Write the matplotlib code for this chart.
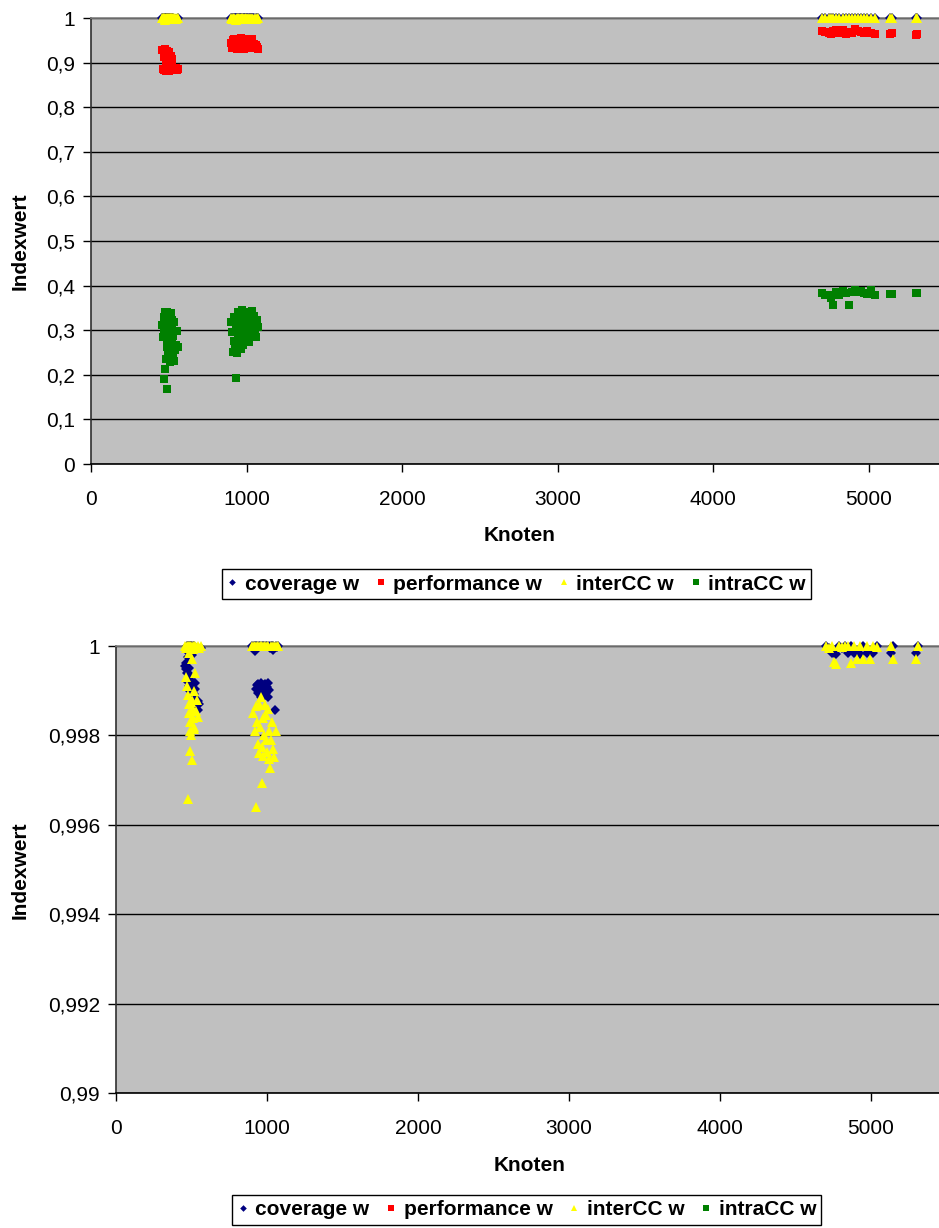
import matplotlib

matplotlib.use("Agg")
import matplotlib.pyplot as plt  # noqa: E402
from matplotlib.lines import Line2D  # noqa: E402

plt.rcParams["font.family"] = ["Liberation Sans", "DejaVu Sans"]

# --- data: three groups of graph instances (Knoten = node count) ---
xa = [458, 463, 467, 470, 472, 475, 477, 479, 481, 483, 485, 486, 488, 490,
      491, 493, 495, 496, 498, 500, 502, 503, 505, 507, 508, 510, 512, 514,
      516, 518, 520, 522, 525, 528, 531, 535, 540, 546, 552, 560]
cov_a = [0.99955, 0.99962, 0.99948, 0.99940, 1.0, 0.99975, 0.9992, 1.0,
         0.99985, 0.9995, 0.9991, 1.0, 0.99935, 0.9990, 0.99925, 1.0, 0.9991,
         1.0, 0.99888, 1.0, 0.99895, 0.99902, 0.9998, 0.99915, 1.0, 0.99885,
         0.99995, 0.99892, 0.99918, 1.0, 0.99878, 0.99918, 0.99905, 0.99880,
         0.99868, 0.99872, 0.99858, 0.99878, 0.9987, 0.99995]
perf_a = [0.928, 0.885, 0.921, 0.912, 0.884, 0.930, 0.918, 0.887, 0.907,
          0.925, 0.882, 0.915, 0.910, 0.889, 0.927, 0.904, 0.886, 0.919,
          0.913, 0.881, 0.908, 0.923, 0.888, 0.916, 0.906, 0.884, 0.911,
          0.914, 0.887, 0.902, 0.883, 0.909, 0.886, 0.889, 0.884, 0.888,
          0.885, 0.887, 0.883, 0.886]
inter_a = [1.0, 0.99995, 0.9993, 0.9991, 1.0, 0.9989, 0.99658, 1.0, 0.9987,
           0.99985, 0.9985, 1.0, 0.9983, 0.99765, 0.9981, 1.0, 0.99875,
           0.99995, 0.9980, 1.0, 0.99745, 0.9988, 0.9997, 0.9984, 1.0, 0.9986,
           0.99993, 0.9982, 0.9990, 1.0, 0.99815, 0.9994, 1.0, 0.99855,
           0.99998, 0.9988, 1.0, 0.99841, 0.99995, 1.0]
intra_a = [0.312, 0.285, 0.330, 0.190, 0.301, 0.342, 0.213, 0.318, 0.290,
           0.236, 0.325, 0.276, 0.168, 0.340, 0.262, 0.296, 0.321, 0.245,
           0.315, 0.282, 0.335, 0.272, 0.305, 0.228, 0.328, 0.293, 0.250,
           0.311, 0.338, 0.279, 0.302, 0.322, 0.240, 0.288, 0.318, 0.231,
           0.255, 0.268, 0.298, 0.262]

xb = [902, 908, 913, 918, 922, 926, 930, 934, 937, 940, 943, 946, 949, 952,
      955, 958, 961, 964, 967, 970, 973, 976, 979, 982, 985, 988, 991, 994,
      997, 1000, 1004, 1008, 1012, 1016, 1020, 1024, 1028, 1032, 1037, 1042,
      1047, 1053, 1059, 1066, 1074]
cov_b = [1.0, 0.99995, 1.0, 0.99988, 1.0, 0.99905, 1.0, 0.99912, 1.0,
         0.99895, 0.99915, 1.0, 0.99908, 0.99892, 1.0, 0.99918, 0.99885, 1.0,
         0.99902, 0.99898, 1.0, 0.99912, 0.99888, 1.0, 0.99905, 0.99915, 1.0,
         0.99895, 0.99908, 1.0, 0.99918, 0.99885, 1.0, 0.99902, 0.99995, 1.0,
         0.99998, 1.0, 0.99992, 1.0, 0.99995, 0.99857, 1.0, 0.99998, 1.0]
perf_b = [0.945, 0.932, 0.951, 0.938, 0.954, 0.934, 0.948, 0.941, 0.953,
          0.931, 0.946, 0.937, 0.952, 0.943, 0.935, 0.950, 0.939, 0.955,
          0.933, 0.947, 0.942, 0.953, 0.936, 0.949, 0.931, 0.944, 0.954,
          0.938, 0.951, 0.934, 0.946, 0.940, 0.952, 0.936, 0.948, 0.932,
          0.950, 0.943, 0.954, 0.937, 0.941, 0.933, 0.939, 0.935, 0.931]
inter_b = [1.0, 0.9985, 1.0, 0.9981, 1.0, 0.99865, 0.99640, 0.9983, 1.0,
           0.9978, 1.0, 0.9987, 0.9976, 1.0, 0.9982, 0.99885, 1.0, 0.99775,
           0.99694, 1.0, 0.9984, 0.99755, 1.0, 0.9980, 0.99868, 1.0, 0.9979,
           0.99845, 1.0, 0.99762, 0.9986, 1.0, 0.9981, 0.99748, 0.99727, 1.0,
           0.9979, 0.9983, 1.0, 0.9977, 0.99752, 1.0, 0.9981, 1.0, 1.0]
intra_b = [0.318, 0.296, 0.252, 0.330, 0.275, 0.262, 0.193, 0.305, 0.248,
           0.321, 0.288, 0.340, 0.270, 0.312, 0.299, 0.336, 0.258, 0.324,
           0.283, 0.345, 0.307, 0.266, 0.329, 0.291, 0.315, 0.341, 0.278,
           0.303, 0.333, 0.286, 0.320, 0.297, 0.338, 0.273, 0.310, 0.326,
           0.289, 0.343, 0.301, 0.317, 0.332, 0.294, 0.285, 0.322, 0.308]

xc = [4700, 4720, 4740, 4755, 4770, 4790, 4810, 4830, 4850, 4870, 4890, 4910,
      4930, 4950, 4970, 4990, 5010, 5040, 5135, 5145, 5300, 5310]
cov_c = [1.0, 0.99995, 0.99985, 0.99984, 0.99983, 1.0, 0.99995, 1.0, 0.99984,
         1.0, 0.99984, 0.99985, 0.99983, 1.0, 0.99984, 0.99986, 0.99985, 1.0,
         0.99985, 1.0, 0.99984, 1.0]
perf_c = [0.971, 0.968, 0.966, 0.964, 0.970, 0.974, 0.967, 0.973, 0.965,
          0.969, 0.966, 0.975, 0.972, 0.968, 0.966, 0.970, 0.967, 0.965,
          0.965, 0.966, 0.963, 0.964]
inter_c = [1.0, 0.99995, 1.0, 0.99964, 0.9996, 1.0, 0.99998, 1.0, 1.0,
           0.99962, 1.0, 0.9997, 1.0, 0.99972, 1.0, 0.9997, 1.0, 0.99998, 1.0,
           0.9997, 0.9997, 1.0]
intra_c = [0.384, 0.380, 0.378, 0.372, 0.357, 0.386, 0.380, 0.389, 0.383,
           0.356, 0.386, 0.391, 0.385, 0.388, 0.384, 0.382, 0.390, 0.379,
           0.381, 0.382, 0.383, 0.384]

knoten = xa + xb + xc
coverage = cov_a + cov_b + cov_c
performance = perf_a + perf_b + perf_c
inter_cc = inter_a + inter_b + inter_c
intra_cc = intra_a + intra_b + intra_c

series_names = ["coverage w", "performance w", "interCC w", "intraCC w"]
xticks = [0, 1000, 2000, 3000, 4000, 5000]
top_yticks = [0, 0.1, 0.2, 0.3, 0.4, 0.5, 0.6, 0.7, 0.8, 0.9, 1.0]
top_ylabels = ["0", "0,1", "0,2", "0,3", "0,4", "0,5", "0,6", "0,7", "0,8",
               "0,9", "1"]
bot_yticks = [0.990, 0.992, 0.994, 0.996, 0.998, 1.0]
bot_ylabels = ["0,99", "0,992", "0,994", "0,996", "0,998", "1"]

# marker styles per series
styles = [
    dict(marker="D", ms=4.8, color="#000080"),
    dict(marker="s", ms=5.2, color="#FF0000"),
    dict(marker="^", ms=6.6, color="#FFFF00"),
    dict(marker="s", ms=5.2, color="#008000"),
]


def draw_panel(ax, ylim, yticks, ylabels, free):
    ax.set_facecolor("#C0C0C0")
    values = [coverage, performance, inter_cc, intra_cc]
    for vals, st, f in zip(values, styles, free):
        ax.plot(knoten, vals, ls="none", mew=0, clip_on=not f, zorder=3, **st)
    ax.set_xlim(0, 5450)
    ax.set_ylim(*ylim)
    ax.set_xticks(xticks)
    ax.set_xticklabels([str(t) for t in xticks])
    ax.set_yticks(yticks)
    ax.set_yticklabels(ylabels)
    ax.grid(True, axis="y", color="black", lw=1.0, zorder=1)
    ax.set_axisbelow(True)
    ax.tick_params(direction="out", length=5.5, width=1, labelsize=15,
                   colors="black")
    ax.tick_params(axis="x", pad=13)
    ax.tick_params(axis="y", pad=6)
    ax.spines["right"].set_visible(False)
    ax.spines["top"].set_color("#808080")
    ax.spines["left"].set_color("#303030")
    ax.spines["bottom"].set_color("black")
    for s in ax.spines.values():
        s.set_linewidth(1.2)


fig = plt.figure(figsize=(9.39, 12.28), dpi=100)

ax1 = fig.add_axes([0.0969, 0.6221, 0.9031, 0.3632])
draw_panel(ax1, (0, 1), top_yticks, top_ylabels, [True, True, True, True])

ax2 = fig.add_axes([0.1235, 0.1099, 0.8765, 0.3640])
draw_panel(ax2, (0.99, 1.0), bot_yticks, bot_ylabels, [True, False, True, False])

bold = dict(fontsize=15, fontweight="bold")
fig.text(0.021, 0.804, "Indexwert", rotation=90, ha="center", va="center", **bold)
fig.text(0.553, 0.5643, "Knoten", ha="center", va="center", **bold)
fig.text(0.021, 0.2915, "Indexwert", rotation=90, ha="center", va="center", **bold)
fig.text(0.564, 0.0513, "Knoten", ha="center", va="center", **bold)

handles = [Line2D([], [], ls="none", marker=st["marker"], color=st["color"],
                  ms=st["ms"] * 0.7, mew=0) for st in styles]
for anchor in [(0.55, 0.5244), (0.561, 0.0147)]:
    leg = fig.legend(handles, series_names, loc="center", bbox_to_anchor=anchor,
                     ncol=4, fancybox=False, edgecolor="black", framealpha=1,
                     prop=dict(weight="bold", size=15), handlelength=0.5,
                     handletextpad=0.35, columnspacing=0.8, borderpad=0.25,
                     borderaxespad=0)
    leg.get_frame().set_linewidth(1.0)

fig.savefig("out.png", dpi=100)
plt.close(fig)
